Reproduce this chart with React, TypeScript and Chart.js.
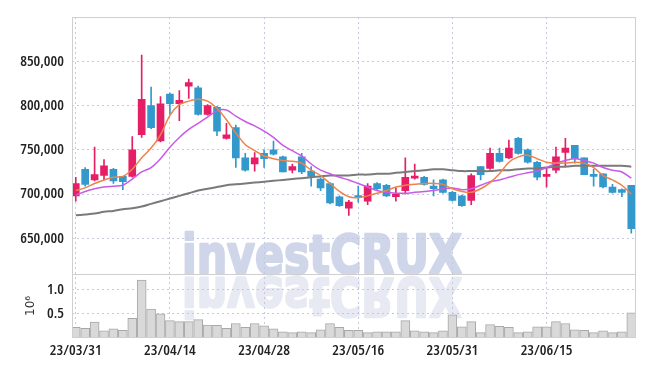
import React, { useEffect, useRef } from "react";
import { Chart, registerables } from "chart.js";
Chart.register(...registerables);

const dates = [
  "23/03/31", "23/04/03", "23/04/04", "23/04/05", "23/04/06", "23/04/07", "23/04/10", "23/04/11", "23/04/12", "23/04/13",
  "23/04/14", "23/04/17", "23/04/18", "23/04/19", "23/04/20", "23/04/21", "23/04/24", "23/04/25", "23/04/26", "23/04/27",
  "23/04/28", "23/05/02", "23/05/03", "23/05/04", "23/05/08", "23/05/09", "23/05/10", "23/05/11", "23/05/12", "23/05/15",
  "23/05/16", "23/05/17", "23/05/18", "23/05/19", "23/05/22", "23/05/23", "23/05/24", "23/05/25", "23/05/26", "23/05/30",
  "23/05/31", "23/06/01", "23/06/02", "23/06/05", "23/06/07", "23/06/08", "23/06/09", "23/06/12", "23/06/13", "23/06/14",
  "23/06/15", "23/06/16", "23/06/19", "23/06/20", "23/06/21", "23/06/22", "23/06/23", "23/06/26", "23/06/27", "23/06/28",
];

const opens = [
  698000, 728000, 716000, 721000, 728000, 720000, 720000, 767000, 800000, 760000,
  813000, 802000, 822000, 820000, 790000, 798000, 763000, 775000, 741000, 734000,
  746000, 750000, 742000, 727000, 742000, 726000, 717000, 712000, 697000, 684000,
  697000, 692000, 712000, 710000, 697000, 704000, 718000, 719000, 709000, 716000,
  702000, 698000, 693000, 731000, 729000, 746000, 741000, 763000, 750000, 736000,
  720000, 727000, 747000, 755000, 741000, 721000, 723000, 708000, 705000, 710000,
];
const highs = [
  719000, 730000, 753000, 739000, 729000, 720000, 765000, 857000, 821000, 810000,
  814000, 817000, 830000, 822000, 801000, 799000, 780000, 778000, 746000, 747000,
  750000, 760000, 743000, 734000, 746000, 731000, 718000, 713000, 698000, 693000,
  709000, 712000, 713000, 711000, 707000, 741000, 734000, 720000, 716000, 717000,
  703000, 699000, 723000, 731000, 752000, 752000, 761000, 764000, 751000, 737000,
  730000, 753000, 763000, 755000, 741000, 728000, 723000, 711000, 706000, 710000,
];
const lows = [
  692000, 709000, 715000, 716000, 712000, 705000, 719000, 764000, 774000, 759000,
  790000, 783000, 808000, 789000, 789000, 766000, 762000, 730000, 726000, 726000,
  730000, 744000, 725000, 724000, 723000, 709000, 704000, 689000, 686000, 676000,
  691000, 688000, 704000, 697000, 692000, 700000, 717000, 710000, 698000, 701000,
  692000, 686000, 688000, 716000, 728000, 736000, 740000, 745000, 735000, 716000,
  708000, 724000, 731000, 735000, 722000, 709000, 707000, 701000, 697000, 656000,
];
const closes = [
  712000, 711000, 722000, 732000, 715000, 714000, 750000, 807000, 775000, 802000,
  802000, 806000, 826000, 790000, 800000, 771000, 767000, 741000, 727000, 741000,
  740000, 745000, 725000, 731000, 725000, 720000, 707000, 690000, 687000, 691000,
  696000, 709000, 706000, 698000, 700000, 719000, 720000, 711000, 706000, 702000,
  693000, 687000, 721000, 722000, 746000, 737000, 752000, 746000, 736000, 719000,
  722000, 742000, 752000, 740000, 722000, 720000, 708000, 702000, 702000, 661000,
];
const volumes = [
  220000, 200000, 330000, 150000, 190000, 160000, 410000, 1200000, 600000, 500000,
  360000, 340000, 340000, 380000, 270000, 260000, 200000, 300000, 220000, 300000,
  250000, 190000, 130000, 110000, 130000, 110000, 170000, 300000, 220000, 160000,
  160000, 110000, 130000, 130000, 130000, 360000, 150000, 130000, 110000, 150000,
  480000, 230000, 340000, 110000, 280000, 240000, 220000, 110000, 130000, 230000,
  230000, 340000, 300000, 170000, 160000, 110000, 150000, 110000, 130000, 520000,
];
const ma5 = [
  704000, 707000, 712000, 716000, 719000, 720000, 728000, 741000, 752000, 767000,
  789000, 801000, 805000, 807000, 805000, 797000, 784000, 769000, 756000, 749000,
  743000, 740000, 738000, 737000, 735000, 727000, 721000, 712000, 703000, 697000,
  696000, 698000, 701000, 704000, 708000, 710000, 711000, 712000, 712000, 711000,
  706000, 703000, 702000, 706000, 713000, 723000, 736000, 742000, 744000, 740000,
  736000, 735000, 735000, 736000, 735000, 730000, 721000, 716000, 710000, 700000,
];
const ma10 = [
  699000, 703000, 706000, 708000, 709000, 710000, 717000, 725000, 730000, 740000,
  753000, 764000, 773000, 780000, 787000, 794000, 795000, 788000, 782000, 777000,
  771000, 764000, 755000, 749000, 743000, 734000, 727000, 723000, 719000, 716000,
  712000, 708000, 704000, 702000, 701000, 701000, 702000, 703000, 704000, 706000,
  707000, 705000, 706000, 710000, 714000, 716000, 719000, 722000, 724000, 726000,
  730000, 735000, 738000, 740000, 738000, 735000, 730000, 727000, 725000, 718000,
];
const maLong = [
  676000, 677000, 678000, 680000, 681000, 683000, 684000, 686000, 689000, 692000,
  695000, 698000, 701000, 704000, 706000, 708000, 710000, 711000, 712000, 713000,
  714000, 715000, 716000, 717000, 718000, 719000, 720000, 721000, 721000, 721000,
  722000, 722000, 723000, 723000, 724000, 725000, 726000, 727000, 728000, 728000,
  727000, 726000, 726000, 726000, 726000, 727000, 727000, 728000, 729000, 729000,
  730000, 731000, 731000, 732000, 732000, 732000, 732000, 732000, 732000, 731000,
];

const priceTicks = [650000, 700000, 750000, 800000, 850000];
const volumeTicks = [500000, 1000000];
const dateTickIndexes = [0, 10, 20, 30, 40, 50];
const watermarkText = "investCRUX";
const volumeTitle = "10\u2076";

const UP = "#e61e66";
const DOWN = "#3399cc";
const GRID = "#c5c9dd";
const TICK_FONT = { family: "'Open Sans', Roboto, sans-serif", size: 15, weight: "600 condensed" };

export default function App() {
  const ref = useRef<HTMLCanvasElement>(null);

  useEffect(() => {
    if (!ref.current) return;
    const idx = dates.map((_, i) => i);
    const colors = idx.map((i) => (closes[i] >= opens[i] ? UP : DOWN));

    const watermark = {
      id: "watermark",
      beforeDraw(chart: any) {
        const { ctx } = chart;
        const yScale = chart.scales.y;
        ctx.save();
        ctx.font = "bold 54px 'DejaVu Sans'";
        ctx.textAlign = "left";
        ctx.textBaseline = "alphabetic";
        ctx.lineJoin = "round";
        const w = ctx.measureText(watermarkText).width;
        const sx = 280 / w;
        const left = 182;
        const baseY = yScale.bottom - 1;
        ctx.save();
        ctx.translate(left, baseY);
        ctx.scale(sx, 1);
        ctx.fillStyle = "rgb(208,214,234)";
        ctx.strokeStyle = "rgb(208,214,234)";
        ctx.lineWidth = 2.5;
        ctx.fillText(watermarkText, 0, 0);
        ctx.strokeText(watermarkText, 0, 0);
        ctx.restore();
        ctx.save();
        ctx.translate(left, baseY + 5);
        ctx.scale(sx, -1);
        ctx.fillStyle = "rgb(231,233,243)";
        ctx.strokeStyle = "rgb(231,233,243)";
        ctx.lineWidth = 2.5;
        ctx.fillText(watermarkText, 0, 0);
        ctx.strokeText(watermarkText, 0, 0);
        ctx.restore();
        ctx.restore();
      },
    };

    const frame = {
      id: "frame",
      afterDatasetsDraw(chart: any) {
        const { ctx, chartArea } = chart;
        const yv = chart.scales.yv;
        ctx.save();
        ctx.strokeStyle = "#cfcfcf";
        ctx.lineWidth = 1;
        ctx.strokeRect(chartArea.left + 0.5, chartArea.top + 0.5, chartArea.right - chartArea.left - 1, chartArea.bottom - chartArea.top - 1);
        ctx.beginPath();
        ctx.moveTo(chartArea.left, Math.round(yv.top) + 0.5);
        ctx.lineTo(chartArea.right, Math.round(yv.top) + 0.5);
        ctx.stroke();
        ctx.restore();
      },
    };

    const chart = new Chart(ref.current, {
      type: "bar",
      data: {
        datasets: [
          {
            type: "line",
            label: "MA5",
            data: idx.map((i) => ({ x: i, y: ma5[i] })),
            borderColor: "#ee824a",
            borderWidth: 1.5,
            pointRadius: 0,
            tension: 0.3,
            yAxisID: "y",
            order: 0,
          },
          {
            type: "line",
            label: "MA10",
            data: idx.map((i) => ({ x: i, y: ma10[i] })),
            borderColor: "#c85ae8",
            borderWidth: 1.5,
            pointRadius: 0,
            tension: 0.3,
            yAxisID: "y",
            order: 0,
          },
          {
            type: "line",
            label: "MA60",
            data: idx.map((i) => ({ x: i, y: maLong[i] })),
            borderColor: "#7a7a7a",
            borderWidth: 2,
            pointRadius: 0,
            tension: 0.3,
            yAxisID: "y",
            order: 0,
          },
          {
            type: "bar",
            label: "body",
            data: idx.map((i) => ({ x: i, y: [opens[i], closes[i]] })),
            backgroundColor: colors,
            borderColor: colors,
            borderWidth: 0,
            barThickness: 7,
            minBarLength: 2,
            grouped: false,
            yAxisID: "y",
            order: 1,
          },
          {
            type: "bar",
            label: "wick",
            data: idx.map((i) => ({ x: i, y: [lows[i], highs[i]] })),
            backgroundColor: colors,
            borderWidth: 0,
            barThickness: 1,
            grouped: false,
            yAxisID: "y",
            order: 2,
          },
          {
            type: "bar",
            label: "volume",
            data: idx.map((i) => ({ x: i, y: volumes[i] })),
            backgroundColor: "#d9d9d9",
            borderColor: "#a8a8a8",
            borderWidth: 1,
            barThickness: 9,
            grouped: false,
            yAxisID: "yv",
            order: 3,
          },
        ] as any,
      },
      options: {
        animation: false,
        responsive: false,
        devicePixelRatio: 1,
        layout: { padding: { top: 9, right: 9, left: 0, bottom: 0 } },
        plugins: { legend: { display: false }, tooltip: { enabled: false } },
        scales: {
          x: {
            type: "linear",
            position: "bottom",
            offset: false,
            min: -0.4,
            max: 59.5,
            afterBuildTicks: (s: any) => {
              s.ticks = dateTickIndexes.map((v) => ({ value: v }));
            },
            afterFit: (s: any) => {
              s.height = 28;
            },
            ticks: {
              autoSkip: false,
              maxRotation: 0,
              padding: 4,
              color: "#222",
              font: TICK_FONT,
              callback: (v: any) => dates[v] ?? "",
            },
            grid: { color: GRID, drawTicks: false, offset: false },
            border: { display: false, dash: [2, 3] },
          },
          yv: {
            type: "linear",
            position: "left",
            stack: "main",
            stackWeight: 1,
            min: 0,
            max: 1330000,
            afterBuildTicks: (s: any) => {
              s.ticks = volumeTicks.map((v) => ({ value: v }));
            },
            afterFit: (s: any) => {
              s.width = 72;
            },
            ticks: {
              padding: 8,
              color: "#222",
              font: TICK_FONT,
              callback: (v: any) => (Number(v) / 1e6).toFixed(1),
            },
            title: {
              display: true,
              text: volumeTitle,
              color: "#333",
              font: { family: "'DejaVu Sans', sans-serif", size: 12 },
              padding: { top: 24, bottom: 0 },
            },
            grid: { color: GRID, drawTicks: false },
            border: { display: false, dash: [2, 3] },
          },
          y: {
            type: "linear",
            position: "left",
            stack: "main",
            stackWeight: 4,
            min: 610000,
            max: 900000,
            afterBuildTicks: (s: any) => {
              s.ticks = priceTicks.map((v) => ({ value: v }));
            },
            afterFit: (s: any) => {
              s.width = 72;
            },
            ticks: {
              padding: 8,
              color: "#222",
              font: TICK_FONT,
              callback: (v: any) => Number(v).toLocaleString("en-US"),
            },
            grid: { color: GRID, drawTicks: false },
            border: { display: false, dash: [2, 3] },
          },
        } as any,
      },
      plugins: [watermark, frame],
    });
    return () => chart.destroy();
  }, []);

  return (
    <div style={{ position: "fixed", left: 0, top: 0, width: 645, height: 366, background: "#fff" }}>
      <canvas ref={ref} width={645} height={366} style={{ display: "block" }} />
    </div>
  );
}
